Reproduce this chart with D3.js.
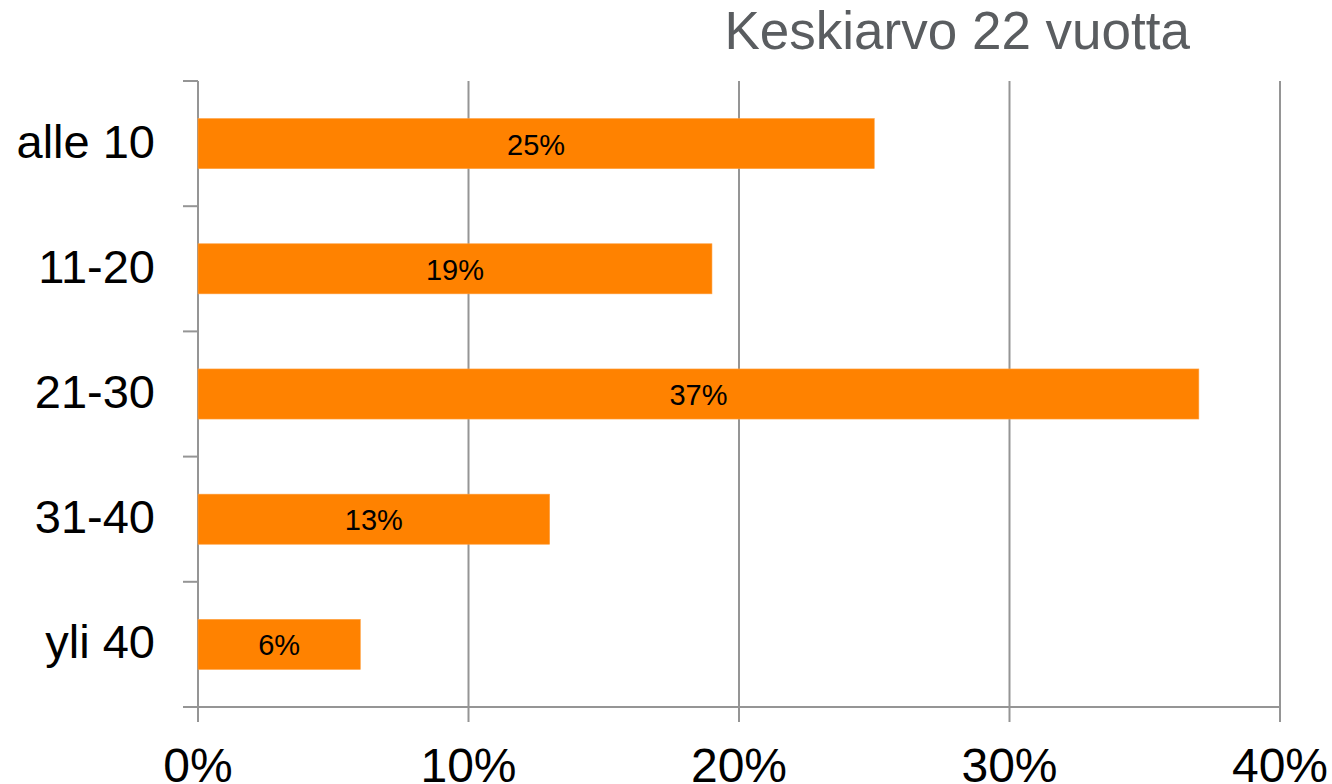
<!DOCTYPE html>
<html>
<head>
<meta charset="utf-8">
<script src="https://cdn.jsdelivr.net/npm/d3@7"></script>
<style>
  body { margin: 0; background: #fff; }
  svg { display: block; font-family: "Liberation Sans", Arial, sans-serif; }
</style>
</head>
<body>
<svg id="chart" width="1332" height="784"></svg>
<script>
let categories = ["alle 10", "11-20", "21-30", "31-40", "yli 40"];
let values = [0.25, 0.19, 0.37, 0.13, 0.06];
let xTicks = [0, 0.1, 0.2, 0.3, 0.4];
let title = "Keskiarvo 22 vuotta";

let plotL = 198, plotR = 1280, plotT = 81, plotB = 707;
let gridColor = "#959595";
let barColor = "#FF8200";

let svg = d3.select("#chart");

let x = d3.scaleLinear()
	.domain([0, 0.4])
	.range([plotL, plotR]);

let y = d3.scaleBand()
	.domain(categories)
	.range([plotT, plotB])
	.paddingInner(0.6)
	.paddingOuter(0.3);

let fmt = d3.format(".0%");

// vertical gridlines (with small tick below axis)
svg.append("g")
	.selectAll("line")
	.data(xTicks)
	.join("line")
		.attr("x1", d => x(d))
		.attr("x2", d => x(d))
		.attr("y1", plotT)
		.attr("y2", plotB + 15)
		.attr("stroke", gridColor)
		.attr("stroke-width", 2);

// bottom axis line
svg.append("line")
	.attr("x1", plotL - 15)
	.attr("x2", plotR)
	.attr("y1", plotB)
	.attr("y2", plotB)
	.attr("stroke", gridColor)
	.attr("stroke-width", 2);

// y tick marks at band boundaries
let bounds = d3.range(categories.length + 1).map(i => plotT + i * (plotB - plotT) / categories.length);
svg.append("g")
	.selectAll("line")
	.data(bounds)
	.join("line")
		.attr("x1", plotL - 15)
		.attr("x2", plotL)
		.attr("y1", d => d)
		.attr("y2", d => d)
		.attr("stroke", gridColor)
		.attr("stroke-width", 2);

// bars
svg.append("g")
	.selectAll("rect")
	.data(values)
	.join("rect")
		.attr("x", x(0))
		.attr("y", (d, i) => y(categories[i]))
		.attr("width", d => x(d) - x(0))
		.attr("height", y.bandwidth())
		.attr("fill", barColor)
		.attr("stroke", "#FFA040")
		.attr("stroke-width", 0.6);

// bar labels
svg.append("g")
	.selectAll("text")
	.data(values)
	.join("text")
		.attr("x", d => (x(0) + x(d)) / 2)
		.attr("y", (d, i) => y(categories[i]) + y.bandwidth() / 2 + 11)
		.attr("text-anchor", "middle")
		.attr("font-size", 29)
		.attr("fill", "#000")
		.text(d => fmt(d));

// category labels
svg.append("g")
	.selectAll("text")
	.data(categories)
	.join("text")
		.attr("x", 155)
		.attr("y", d => y(d) + y.bandwidth() / 2 + 14)
		.attr("text-anchor", "end")
		.attr("font-size", 47)
		.attr("fill", "#000")
		.text(d => d);

// x tick labels
svg.append("g")
	.selectAll("text")
	.data(xTicks)
	.join("text")
		.attr("x", d => x(d))
		.attr("y", 782)
		.attr("text-anchor", "middle")
		.attr("font-size", 48)
		.attr("fill", "#000")
		.text(d => fmt(d));

// title
svg.append("text")
	.attr("x", 1190)
	.attr("y", 49)
	.attr("text-anchor", "end")
	.attr("font-size", 53)
	.attr("fill", "#5a5d60")
	.text(title);
</script>
</body>
</html>
